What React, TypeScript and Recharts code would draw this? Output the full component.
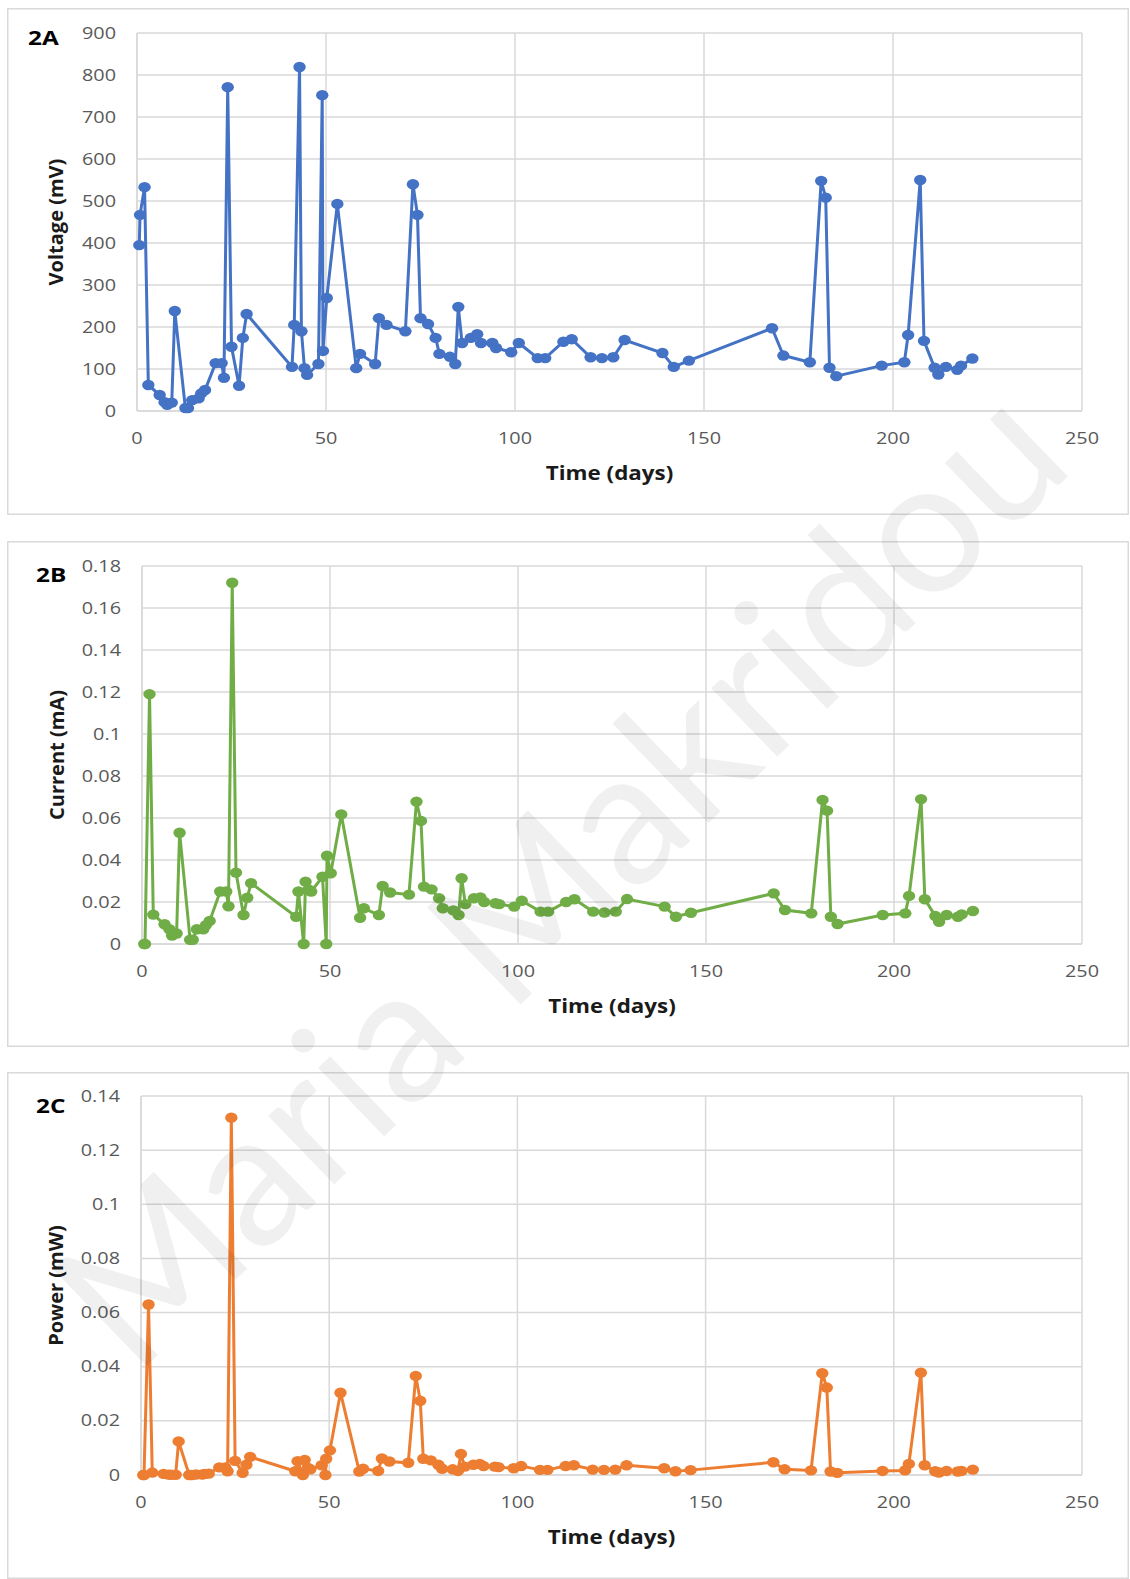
import { CartesianGrid, Line, LineChart, XAxis, YAxis } from "recharts";

// sampling days and the three measured series
const days = [
  0.6, 0.8, 2, 3, 6, 7.3, 8, 9.2, 10, 12.8, 13.5, 14.6, 16.3, 17, 18, 20.8, 22.4, 23, 24, 25, 27, 28, 29,
  41, 41.6, 43, 43.5, 44.3, 45, 48, 49, 49.2, 50.2, 53, 58, 59, 63, 64, 66, 71, 73, 74.2, 75, 77, 79, 80,
  82.8, 84.2, 85, 86, 88.3, 90, 91, 94, 95, 99, 101, 106, 108, 112.8, 115, 120, 123, 126, 129, 139, 142,
  146, 168, 171, 178, 181, 182.2, 183.2, 185, 197, 203, 204, 207.2, 208.2, 211, 212, 214, 217, 218, 221
];

const voltage = [
  395, 467, 533, 62, 38, 21, 15, 20, 238, 7, 7, 26, 30, 42, 50, 114, 114, 79, 771, 153, 60, 174, 231,
  105, 205, 819, 190, 102, 86, 112, 752, 143, 269, 493, 102, 136, 112, 221, 205, 190, 540, 467, 221, 207,
  174, 136, 129, 112, 248, 162, 174, 183, 162, 162, 150, 140, 162, 126, 126, 165, 171, 128, 126, 128,
  169, 138, 105, 120, 197, 132, 116, 548, 508, 103, 83, 108, 116, 181, 550, 167, 103, 87, 105, 98, 108, 125
];

const current = [
  0, 0, 0.119, 0.014, 0.0094, 0.007, 0.004, 0.005, 0.053, 0.002, 0.002, 0.007, 0.007, 0.009, 0.011,
  0.025, 0.025, 0.018, 0.172, 0.034, 0.0138, 0.022, 0.029, 0.013, 0.025, 0, 0.0297, 0.026, 0.025, 0.032,
  0, 0.042, 0.0337, 0.0617, 0.0125, 0.017, 0.0138, 0.0276, 0.0245, 0.0235, 0.0678, 0.0586, 0.0273, 0.026,
  0.0218, 0.017, 0.016, 0.0138, 0.0313, 0.019, 0.0218, 0.0222, 0.02, 0.0194, 0.019, 0.0178, 0.0206,
  0.0154, 0.0154, 0.02, 0.0213, 0.0154, 0.015, 0.0154, 0.0214, 0.0178, 0.013, 0.0149, 0.0241, 0.0162,
  0.0146, 0.0686, 0.0635, 0.013, 0.0095, 0.0138, 0.0146, 0.0229, 0.069, 0.0213, 0.0133, 0.0106, 0.0138,
  0.013, 0.0141, 0.0157
];

const power = [
  0, 0, 0.063, 0.0009, 0.0004, 0.00015, 0.0001, 0.0001, 0.0124, 0, 0, 0.0002, 0.0002, 0.0004, 0.0005,
  0.0028, 0.0028, 0.0014, 0.132, 0.0052, 0.0008, 0.0038, 0.0067, 0.0014, 0.0051, 0, 0.0056, 0.0027,
  0.0021, 0.0036, 0, 0.006, 0.0091, 0.0304, 0.0013, 0.0023, 0.0015, 0.0061, 0.005, 0.0045, 0.0366,
  0.0274, 0.006, 0.0054, 0.0038, 0.0023, 0.0021, 0.0015, 0.0078, 0.0031, 0.0038, 0.0041, 0.0033, 0.0031,
  0.0029, 0.0025, 0.0033, 0.0019, 0.0019, 0.0033, 0.0036, 0.002, 0.0019, 0.002, 0.0036, 0.0025, 0.0014,
  0.0018, 0.0047, 0.0021, 0.0017, 0.0376, 0.0323, 0.0013, 0.0008, 0.0015, 0.0017, 0.0041, 0.0378, 0.0036,
  0.0014, 0.0009, 0.0015, 0.0013, 0.0015, 0.002
];

const dayTicks = [0, 50, 100, 150, 200, 250];
const voltageTicks = [0, 100, 200, 300, 400, 500, 600, 700, 800, 900];
const currentTicks = [0, 0.02, 0.04, 0.06, 0.08, 0.1, 0.12, 0.14, 0.16, 0.18];
const powerTicks = [0, 0.02, 0.04, 0.06, 0.08, 0.1, 0.12, 0.14];

const rows = days.map((day, i) => ({ day, voltage: voltage[i], current: current[i], power: power[i] }));

const GRID = "#d9d9d9";
const FONT = "'Open Sans', sans-serif";
const PANEL_W = 1122;
const Y_AXIS_W = 60;
const X_AXIS_H = 40;

const YTick = (p: any) => (
  <text
    transform={`translate(${p.x},${p.y}) scale(1.28,1)`}
    textAnchor="end"
    dy="0.36em"
    fill="#595959"
    fontSize={15.5}
    fontFamily={FONT}
  >
    {String(p.payload.value)}
  </text>
);

const XTick = (p: any) => (
  <text
    transform={`translate(${p.x},${p.y}) scale(1.28,1)`}
    textAnchor="middle"
    dy="0.72em"
    fill="#595959"
    fontSize={15.5}
    fontFamily={FONT}
  >
    {String(p.payload.value)}
  </text>
);

// slightly wide round markers, as in the spreadsheet export
const dotFor = (color: string) => (p: any) =>
  <ellipse key={`dot-${p.index}`} cx={p.cx} cy={p.cy} rx={6.2} ry={5.2} fill={color} />;

type PanelProps = {
  top: number;
  height: number;
  plot: { left: number; top: number; right: number; bottom: number };
  dataKey: string;
  color: string;
  yTicks: number[];
  yTitle: string;
  yTitleX: number;
  tag: string;
  tagX: number;
  tagY: number;
};

function Panel({ top, height, plot, dataKey, color, yTicks, yTitle, yTitleX, tag, tagX, tagY }: PanelProps) {
  const margin = {
    top: plot.top,
    right: PANEL_W - plot.right,
    bottom: height - plot.bottom - X_AXIS_H,
    left: plot.left - Y_AXIS_W
  };
  const midX = (plot.left + plot.right) / 2;
  const midY = (plot.top + plot.bottom) / 2;

  return (
    <div
      style={{
        position: "absolute",
        left: 7,
        top,
        width: PANEL_W,
        height,
        background: "#fff",
        boxShadow: `inset 0 0 0 1.5px ${GRID}`
      }}
    >
      <LineChart width={PANEL_W} height={height} data={rows} margin={margin}>
        <CartesianGrid stroke={GRID} strokeWidth={1.5} />
        <XAxis
          type="number"
          dataKey="day"
          domain={[0, 250]}
          ticks={dayTicks}
          interval={0}
          height={X_AXIS_H}
          axisLine={{ stroke: GRID, strokeWidth: 1.5 }}
          tickLine={false}
          tickSize={0}
          tickMargin={22}
          tick={XTick}
        />
        <YAxis
          type="number"
          domain={[0, yTicks[yTicks.length - 1]]}
          ticks={yTicks}
          interval={0}
          width={Y_AXIS_W}
          axisLine={{ stroke: GRID, strokeWidth: 1.5 }}
          tickLine={false}
          tickSize={0}
          tickMargin={21}
          tick={YTick}
        />
        <Line
          type="linear"
          dataKey={dataKey}
          stroke={color}
          strokeWidth={3}
          dot={dotFor(color)}
          activeDot={false}
          isAnimationActive={false}
        />
      </LineChart>
      <svg
        width={PANEL_W}
        height={height}
        style={{ position: "absolute", left: 0, top: 0, pointerEvents: "none" }}
      >
        <text
          transform={`translate(${tagX},${tagY}) scale(1.28,1)`}
          fontSize={19}
          fontWeight={700}
          fontFamily={FONT}
          fill="#000"
        >
          {tag}
        </text>
        <text
          transform={`translate(${midX},${plot.bottom + 69}) scale(1.12,1)`}
          textAnchor="middle"
          fontSize={20}
          fontWeight={700}
          fontFamily={FONT}
          fill="#1a1a1a"
        >
          Time (days)
        </text>
        <text
          transform={`translate(${yTitleX},${midY}) rotate(-90)`}
          textAnchor="middle"
          fontSize={20}
          fontWeight={700}
          fontFamily={FONT}
          fill="#1a1a1a"
        >
          {yTitle}
        </text>
      </svg>
    </div>
  );
}

export default function App() {
  return (
    <div style={{ position: "absolute", left: 0, top: 0, width: 1130, height: 1579, background: "#fff", overflow: "hidden" }}>
      <Panel
        top={8}
        height={507}
        plot={{ left: 130, top: 25, right: 1075, bottom: 403 }}
        dataKey="voltage"
        color="#4472C4"
        yTicks={voltageTicks}
        yTitle="Voltage (mV)"
        yTitleX={56}
        tag="2A"
        tagX={21}
        tagY={37}
      />
      <Panel
        top={541}
        height={506}
        plot={{ left: 135, top: 25, right: 1075, bottom: 403 }}
        dataKey="current"
        color="#70AD47"
        yTicks={currentTicks}
        yTitle="Current (mA)"
        yTitleX={56.5}
        tag="2B"
        tagX={29}
        tagY={41}
      />
      <Panel
        top={1072}
        height={507}
        plot={{ left: 134, top: 24, right: 1075, bottom: 403 }}
        dataKey="power"
        color="#ED7D31"
        yTicks={powerTicks}
        yTitle="Power (mW)"
        yTitleX={55.5}
        tag="2C"
        tagX={29}
        tagY={41}
      />
      {/* diagonal author watermark across all three panels */}
      <svg width={1130} height={1579} style={{ position: "absolute", left: 0, top: 0, pointerEvents: "none" }}>
        <text
          x={555}
          y={870}
          transform="rotate(-44 555 870)"
          textAnchor="middle"
          dominantBaseline="central"
          fontSize={188}
          fontFamily="Lato, sans-serif"
          fill="#000"
          fillOpacity={0.06}
        >
          Maria Makridou
        </text>
      </svg>
    </div>
  );
}
